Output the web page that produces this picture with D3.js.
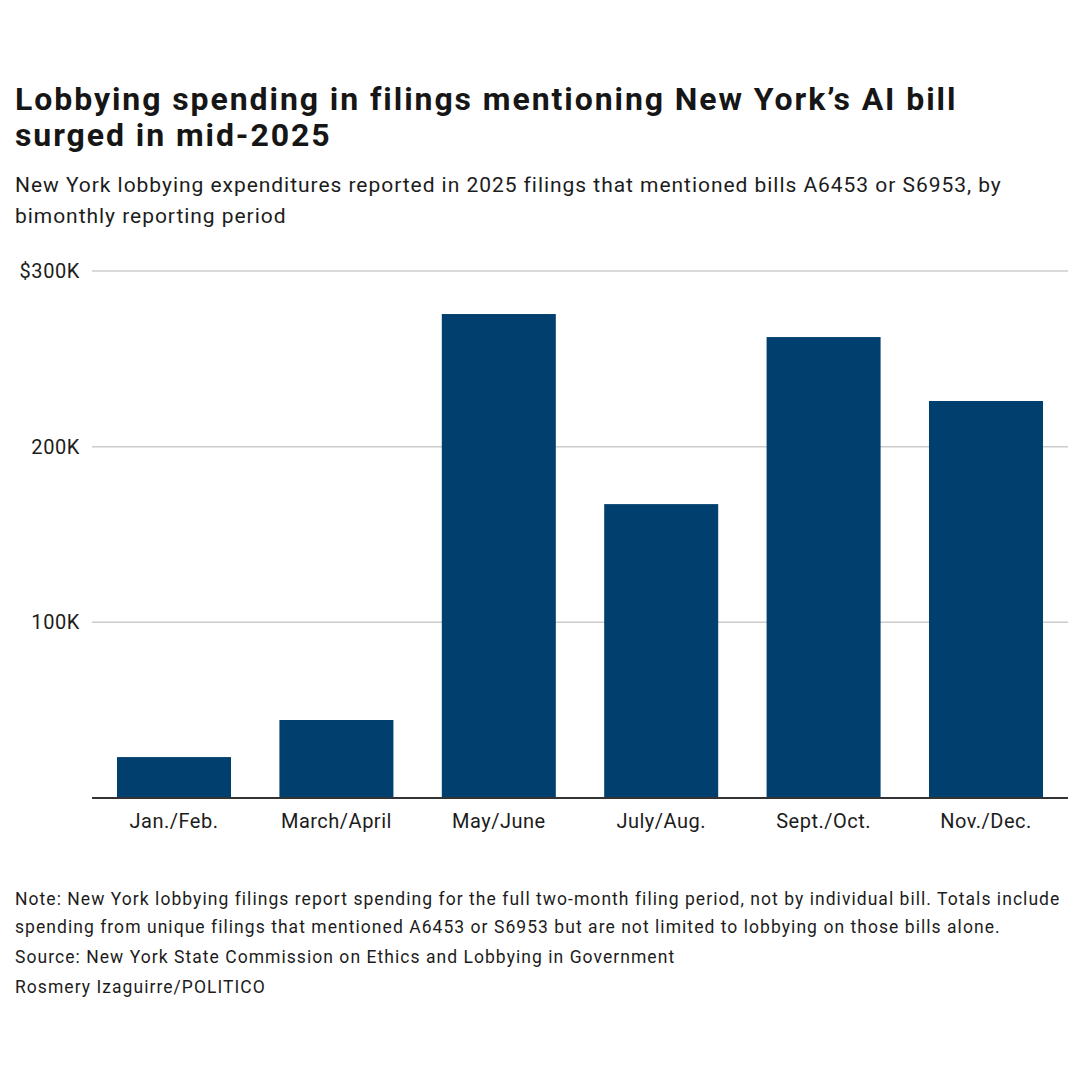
<!DOCTYPE html>
<html>
<head>
<meta charset="utf-8">
<script src="https://cdn.jsdelivr.net/npm/d3@7"></script>
<style>
  body { margin: 0; background: #fff; }
  svg { display: block; font-family: Roboto, "Noto Sans", sans-serif; }
</style>
</head>
<body>
<script>
// Data
const periods = ["Jan./Feb.", "March/April", "May/June", "July/Aug.", "Sept./Oct.", "Nov./Dec."];
const spending = [23300, 44400, 275500, 167300, 262400, 226000];
const yTicks = [100000, 200000, 300000];

const titleLines = ["Lobbying spending in filings mentioning New York’s AI bill", "surged in mid-2025"];
const subtitleLines = ["New York lobbying expenditures reported in 2025 filings that mentioned bills A6453 or S6953, by",
                       "bimonthly reporting period"];
const noteLines = [
  "Note: New York lobbying filings report spending for the full two-month filing period, not by individual bill. Totals include",
  "spending from unique filings that mentioned A6453 or S6953 but are not limited to lobbying on those bills alone.",
  "Source: New York State Commission on Ethics and Lobbying in Government",
  "Rosmery Izaguirre/POLITICO"
];

const W = 1080, H = 1080;
const plot = { left: 92, right: 1068, top: 271, bottom: 798 };

const svg = d3.select("body").append("svg")
  .attr("width", W)
  .attr("height", H);

// a block of lines at a fixed size; letter-spacing stretches the first line to the target width
function textBlock(lines, x, baselines, size, target, opts) {
  const t = svg.append("g")
    .selectAll("text")
    .data(lines)
    .enter()
    .append("text")
    .attr("x", x)
    .attr("y", (d, i) => baselines[i])
    .attr("fill", opts.color)
    .style("font-size", size + "px")
    .style("font-weight", opts.weight || 400)
    .text(d => d);
  const first = lines[0];
  const w = t.nodes()[0].getComputedTextLength();
  const ls = (target - w) / (first.length - 1);
  t.style("letter-spacing", ls + "px");
  return t;
}

textBlock(titleLines, 15, [110, 146], 32, 940, { color: "#161616", weight: 700 });
textBlock(subtitleLines, 15, [192, 223], 21, 985, { color: "#1c1c1c" });
textBlock(noteLines, 15, [905, 933, 963, 993], 17.5, 1043, { color: "#1c1c1c" });

// Scales
const x = d3.scaleBand()
  .domain(periods)
  .range([plot.left, plot.right])
  .paddingInner(0.298)
  .paddingOuter(0.154);

const y = d3.scaleLinear()
  .domain([0, 300000])
  .range([plot.bottom, plot.top]);

// Gridlines
svg.append("g")
  .selectAll("line")
  .data(yTicks)
  .enter()
  .append("line")
  .attr("x1", plot.left)
  .attr("x2", plot.right)
  .attr("y1", d => y(d))
  .attr("y2", d => y(d))
  .attr("stroke", "#cccccc")
  .attr("stroke-width", 1.5);

// Y tick labels
svg.append("g")
  .selectAll("text")
  .data(yTicks)
  .enter()
  .append("text")
  .attr("x", 80)
  .attr("y", d => y(d) + 7)
  .attr("text-anchor", "end")
  .attr("fill", "#1c1c1c")
  .style("font-size", "20px")
  .style("letter-spacing", "0.6px")
  .text(d => (d === 300000 ? "$" : "") + d3.format("~s")(d).replace("k", "K"));

// Bars
svg.append("g")
  .selectAll("rect")
  .data(periods.map((p, i) => ({ period: p, value: spending[i] })))
  .enter()
  .append("rect")
  .attr("x", d => x(d.period))
  .attr("y", d => y(d.value))
  .attr("width", x.bandwidth())
  .attr("height", d => y(0) - y(d.value))
  .attr("fill", "#003f6e");

// Baseline
svg.append("line")
  .attr("x1", plot.left)
  .attr("x2", plot.right)
  .attr("y1", y(0))
  .attr("y2", y(0))
  .attr("stroke", "#333333")
  .attr("stroke-width", 2);

// X axis labels
svg.append("g")
  .selectAll("text")
  .data(periods)
  .enter()
  .append("text")
  .attr("x", d => x(d) + x.bandwidth() / 2)
  .attr("y", 828)
  .attr("text-anchor", "middle")
  .attr("fill", "#1c1c1c")
  .style("font-size", "20px")
  .style("letter-spacing", "0.5px")
  .text(d => d);
</script>
</body>
</html>
